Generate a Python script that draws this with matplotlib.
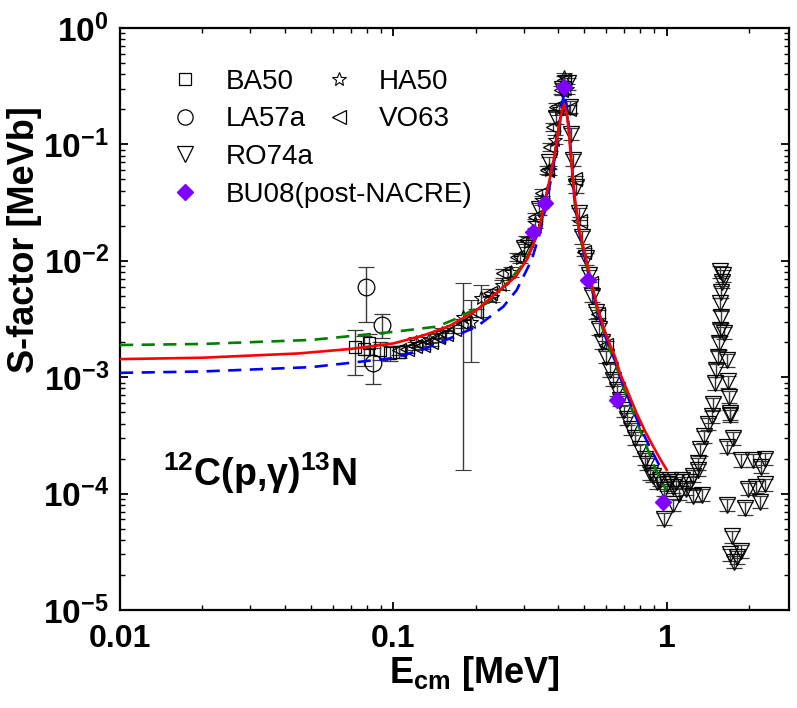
import matplotlib
matplotlib.use('Agg')
import matplotlib.pyplot as plt
from matplotlib.lines import Line2D

plt.rcParams['font.family'] = ['Liberation Sans', 'DejaVu Sans']
plt.rcParams['mathtext.fontset'] = 'custom'
plt.rcParams['mathtext.rm'] = 'Liberation Sans:bold'
plt.rcParams['mathtext.bf'] = 'Liberation Sans:bold'
plt.rcParams['mathtext.it'] = 'Liberation Sans:bold:italic'
plt.rcParams['mathtext.sf'] = 'Liberation Sans:bold'

# ---------------- data ----------------
# model curves
red_E = [0.01, 0.02, 0.045, 0.07, 0.1, 0.13, 0.16, 0.2, 0.245, 0.28, 0.31, 0.34, 0.365,
         0.39, 0.405, 0.415, 0.422, 0.43, 0.436, 0.446, 0.461, 0.48, 0.50, 0.53, 0.555,
         0.586, 0.62, 0.647, 0.675, 0.72, 0.776, 0.83, 0.893, 0.95, 1.0]
red_S = [1.43e-3, 1.47e-3, 1.60e-3, 1.75e-3, 1.95e-3, 2.3e-3, 2.75e-3, 3.7e-3, 5.6e-3, 7.3e-3,
         1.05e-2, 1.8e-2, 3.9e-2, 8.4e-2, 0.15, 0.2, 0.22, 0.19, 0.147, 0.08, 0.035, 0.018,
         0.012, 6.5e-3, 4.2e-3, 2.72e-3, 1.9e-3, 1.5e-3, 1.08e-3, 7.5e-4, 4.9e-4, 3.5e-4,
         2.53e-4, 1.95e-4, 1.6e-4]

green_E = [0.01, 0.02, 0.05, 0.1, 0.144, 0.1655, 0.219, 0.26, 0.3, 0.33, 0.35, 0.365, 0.39,
           0.405, 0.415, 0.422, 0.43, 0.44, 0.46, 0.48, 0.50, 0.53, 0.555, 0.586, 0.62, 0.647,
           0.675, 0.72, 0.776, 0.83, 0.893, 0.95, 1.0]
green_S = [1.89e-3, 1.93e-3, 2.09e-3, 2.45e-3, 2.72e-3, 3.1e-3, 4.3e-3, 6.4e-3, 9.5e-3, 1.5e-2,
           2.2e-2, 4.0e-2, 8.5e-2, 0.15, 0.2, 0.24, 0.2, 0.12, 0.032, 0.017, 0.011, 6e-3, 3.9e-3,
           2.5e-3, 1.7e-3, 1.35e-3, 9.8e-4, 6.5e-4, 4.2e-4, 2.8e-4, 1.8e-4, 1.3e-4, 1.07e-4]

blue_E = [0.01, 0.02, 0.05, 0.1, 0.13, 0.161, 0.2018, 0.2523, 0.2825, 0.3206, 0.345, 0.365,
          0.39, 0.405, 0.415, 0.422, 0.43, 0.44, 0.46, 0.48, 0.50, 0.53, 0.555, 0.586, 0.62,
          0.647, 0.675, 0.72, 0.776, 0.83, 0.893, 0.958]
blue_S = [1.09e-3, 1.12e-3, 1.22e-3, 1.46e-3, 1.75e-3, 2.16e-3, 2.72e-3, 4.03e-3, 5.6e-3,
          1.02e-2, 1.8e-2, 3.3e-2, 7.8e-2, 0.15, 0.23, 0.275, 0.22, 0.13, 0.033, 0.017, 0.011,
          6e-3, 3.9e-3, 2.5e-3, 1.75e-3, 1.38e-3, 1.0e-3, 6.8e-4, 4.4e-4, 3.1e-4, 2.2e-4, 1.6e-4]

# experimental data
BA50_E = [0.0724, 0.078, 0.0815, 0.0895, 0.0975, 0.105]
BA50_S = [1.8e-3, 1.75e-3, 1.95e-3, 1.71e-3, 1.62e-3, 1.65e-3]
BA50_err = [0.75e-3, 0.5e-3, 0.4e-3, 0.3e-3, 0.25e-3, 0.2e-3]

LA57a_E = [0.0793, 0.084, 0.0906]
LA57a_S = [5.9e-3, 1.32e-3, 2.81e-3]
LA57a_err = [2.9e-3, 0.45e-3, 0.65e-3]

HA50_E = [0.121, 0.135, 0.15, 0.18, 0.193, 0.21, 0.23, 0.25, 0.27, 0.29, 0.31, 0.33, 0.35,
          0.37, 0.39, 0.405, 0.42, 0.432]
HA50_S = [2.0e-3, 2.15e-3, 2.4e-3, 3.28e-3, 2.97e-3, 4.75e-3, 4.9e-3, 6.2e-3, 8.0e-3, 1.05e-2,
          1.45e-2, 2.1e-2, 3.3e-2, 6.0e-2, 0.11, 0.2, 0.38, 0.3]
HA50_err = [0.2e-3, 0.2e-3, 0.25e-3, 3.12e-3, 1.63e-3, 1.45e-3, 0.5e-3, 0.6e-3, 0.8e-3, 1e-3,
            1.4e-3, 2e-3, 3e-3, 5e-3, 0.01, 0.02, 0.03, 0.03]

VO63_E = [0.105, 0.112, 0.12, 0.128, 0.137, 0.146, 0.156, 0.167, 0.18, 0.2, 0.2255, 0.2522,
          0.2825, 0.306, 0.329, 0.35, 0.364, 0.373, 0.383, 0.393, 0.41, 0.421, 0.44, 0.46,
          0.48, 0.5, 0.53, 0.56, 0.6]
VO63_S = [1.7e-3, 1.75e-3, 1.85e-3, 1.9e-3, 2.0e-3, 2.2e-3, 2.35e-3, 2.6e-3, 2.9e-3, 3.6e-3,
          5.3e-3, 7.8e-3, 1.08e-2, 1.51e-2, 2.39e-2, 3.8e-2, 6.0e-2, 9.5e-2, 0.142, 0.211,
          0.293, 0.357, 0.2, 0.05, 0.022, 0.012, 6.5e-3, 3.5e-3, 1.9e-3]
VO63_relerr = 0.08

RO74a_E = [0.30, 0.34, 0.37, 0.395, 0.415, 0.436, 0.442, 0.448, 0.454, 0.466, 0.478, 0.49,
           0.505, 0.52, 0.534, 0.55, 0.566, 0.58, 0.6, 0.618, 0.636, 0.655, 0.675, 0.695,
           0.715, 0.74, 0.768, 0.8, 0.83, 0.85, 0.869, 0.893, 0.92, 0.945, 0.975, 0.98, 1.0,
           1.03, 1.057, 1.057, 1.08, 1.11, 1.14, 1.18, 1.22, 1.25, 1.25, 1.30, 1.34,
           1.30, 1.32, 1.37, 1.42, 1.46, 1.48, 1.50, 1.52, 1.54, 1.55, 1.565, 1.58, 1.57,
           1.58, 1.59, 1.565, 1.60, 1.62, 1.66, 1.67, 1.69, 1.70, 1.70, 1.66, 1.74, 1.87,
           2.07, 2.22, 2.28, 1.98, 2.12, 2.28, 2.2, 1.94, 1.66, 1.73, 1.70, 1.8, 1.87, 1.76]
RO74a_S = [1.3e-2, 2.8e-2, 7.0e-2, 0.17, 0.3, 0.335, 0.211, 0.124, 0.0735, 0.0433, 0.0256,
           0.016, 0.0105, 7.5e-3, 5.0e-3, 3.6e-3, 2.6e-3, 2.0e-3, 1.5e-3, 1.15e-3, 9.5e-4,
           7.8e-4, 6.4e-4, 5.2e-4, 4.4e-4, 3.6e-4, 3.0e-4, 2.4e-4, 2.0e-4, 1.8e-4, 1.5e-4,
           1.42e-4, 1.25e-4, 1.32e-4, 6.1e-5, 1.08e-4, 1.2e-4, 1.32e-4, 1.15e-4, 8.1e-5,
           1.25e-4, 1.0e-4, 1.32e-4, 1.1e-4, 1.25e-4, 1.42e-4, 9.6e-5, 1.6e-4, 9.8e-5,
           1.82e-4, 2.4e-4, 3.1e-4, 4.0e-4, 4.6e-4, 5.9e-4, 8.9e-4, 1.15e-3, 1.5e-3, 1.96e-3,
           2.55e-3, 3.3e-3, 4.3e-3, 5.4e-3, 6.6e-3, 8.1e-3, 7.5e-3, 2.4e-3, 1.4e-3, 9.2e-4,
           6.8e-4, 4.9e-4, 4.7e-4, 2.53e-4, 3.0e-4, 1.94e-4, 1.94e-4, 1.7e-4, 2.0e-4, 1.1e-4,
           1.15e-4, 1.2e-4, 8.5e-5, 7.5e-5, 8.0e-5, 4.3e-5, 3.0e-5, 2.85e-5, 3.2e-5, 2.6e-5]
RO74a_relerr = 0.12

BU08_E = [0.324, 0.358, 0.421, 0.516, 0.66, 0.97]
BU08_S = [0.0178, 0.0312, 0.313, 6.8e-3, 6.4e-4, 8.5e-5]

x_ticks = [0.01, 0.1, 1]
x_ticklabels = ['0.01', '0.1', '1']

# ---------------- figure ----------------
fig = plt.figure(figsize=(7.97, 7.08), dpi=100)
ax = fig.add_axes([120/797, 98/708, 669/797, 582/708])
ax.set_xscale('log')
ax.set_yscale('log')
ax.set_xlim(0.01, 2.8)
ax.set_ylim(1e-5, 1)

ecol = '#3a3a3a'
ekw = dict(ecolor=ecol, elinewidth=1.0, capsize=6, capthick=1.0, linestyle='none',
           zorder=2)

ax.errorbar(RO74a_E, RO74a_S, yerr=[s * RO74a_relerr for s in RO74a_S], marker='v',
            ms=11, mfc='none', mec='black', mew=0.9, **ekw)
ax.errorbar(VO63_E, VO63_S, yerr=[s * VO63_relerr for s in VO63_S], marker='<',
            ms=10, mfc='none', mec='black', mew=0.9, **ekw)
ax.errorbar(HA50_E, HA50_S, yerr=HA50_err, marker='*', ms=10, mfc='none', mec='black',
            mew=0.8, **ekw)
ax.errorbar(BA50_E, BA50_S, yerr=BA50_err, marker='s', ms=9, mfc='none', mec='black',
            mew=0.9, **ekw)
ax.errorbar(LA57a_E, LA57a_S, yerr=LA57a_err, marker='o', ms=12, mfc='none', mec='black',
            mew=0.9, **ekw)

ax.plot(green_E, green_S, color='#008000', lw=1.9, dashes=(5.0, 3.2), zorder=4)
ax.plot(blue_E, blue_S, color='#0000ff', lw=1.9, dashes=(5.0, 3.2), zorder=4)
ax.plot(red_E, red_S, color='#ff0000', lw=1.9, zorder=5)

ax.plot(BU08_E, BU08_S, linestyle='none', marker='D', ms=8.5, color='#8000ff',
        mec='#8000ff', zorder=6)

# legends
h_ba = Line2D([], [], ls='none', marker='s', ms=9, mfc='none', mec='black', mew=0.9)
h_la = Line2D([], [], ls='none', marker='o', ms=11, mfc='none', mec='black', mew=0.9)
h_ro = Line2D([], [], ls='none', marker='v', ms=11, mfc='none', mec='black', mew=0.9)
h_bu = Line2D([], [], ls='none', marker='D', ms=8.5, color='#8000ff')
h_ha = Line2D([], [], ls='none', marker='*', ms=10, mfc='none', mec='black', mew=0.8)
h_vo = Line2D([], [], ls='none', marker='<', ms=10, mfc='none', mec='black', mew=0.9)

leg_kw = dict(loc='upper left', frameon=False, fontsize=20, handlelength=1.0,
              handletextpad=0.95, labelspacing=0.42, borderpad=0, borderaxespad=0)
leg1 = ax.legend([h_ba, h_la, h_ro, h_bu], ['BA50', 'LA57a', 'RO74a', 'BU08(post-NACRE)'],
                 bbox_to_anchor=(0.077, 0.93), **leg_kw)
ax.add_artist(leg1)
ax.legend([h_ha, h_vo], ['HA50', 'VO63'], bbox_to_anchor=(0.306, 0.93), **leg_kw)

# axes styling
ax.set_xticks(x_ticks)
ax.set_xticklabels(x_ticklabels)
for sp in ax.spines.values():
    sp.set_linewidth(1.6)
ax.tick_params(which='both', direction='in', top=True, right=True)
ax.tick_params(which='major', length=6, width=1.3)
ax.tick_params(which='minor', length=3.5, width=1.0)
ax.tick_params(axis='x', which='major', labelsize=23, pad=10)
ax.tick_params(axis='y', which='major', labelsize=24, pad=8)
for lab in ax.get_xticklabels() + ax.get_yticklabels():
    lab.set_fontweight('bold')

ax.set_xlabel(r'E$_{\mathregular{cm}}$ [MeV]', fontsize=26, fontweight='bold')
ax.xaxis.set_label_coords(0.53, -0.075)
ax.set_ylabel('S-factor [MeVb]', fontsize=26, fontweight='bold')
ax.yaxis.set_label_coords(-0.116, 0.636)

ax.text(0.065, 0.235, r'$^{12}$C(p,γ)$^{13}$N', transform=ax.transAxes,
        fontsize=27, fontweight='bold', ha='left', va='center')

fig.savefig('out.png', dpi=100)
